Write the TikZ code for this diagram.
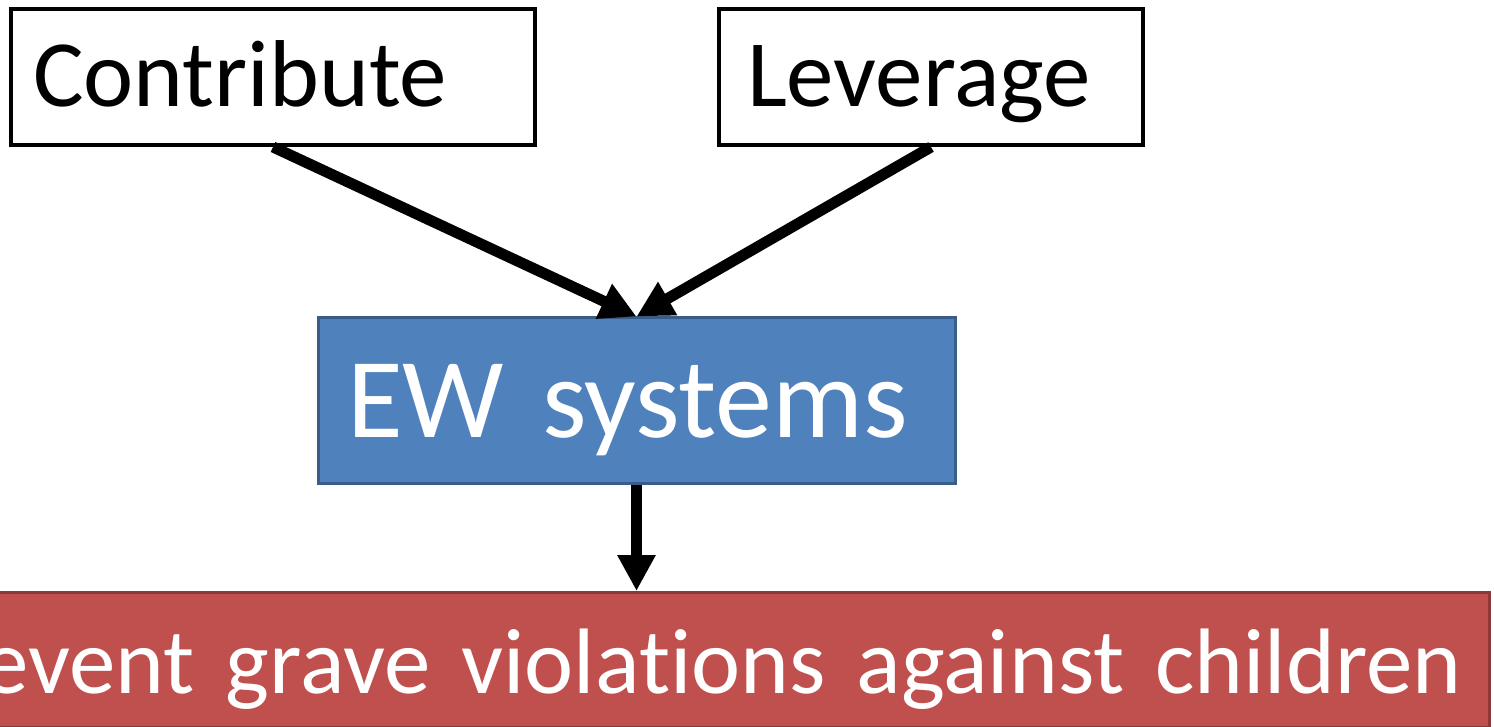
\documentclass[tikz,border=0pt]{standalone}
\usepackage{fontspec}
\setmainfont{Carlito}[Ligatures=NoCommon]
\usetikzlibrary{arrows.meta}
\definecolor{ewfill}{HTML}{4F81BD}
\definecolor{ewline}{HTML}{385D8A}
\definecolor{goalfill}{HTML}{C0504D}
\definecolor{goalline}{HTML}{8C3836}
\begin{document}
\begin{tikzpicture}[x=1pt,y=-1pt,
    actbox/.style={draw,line width=4pt,inner ysep=0pt,align=left,minimum height=136pt,
        text height=70pt,text depth=10pt,font=\fontsize{95}{100}\selectfont},
    pil/.style={-{Triangle[width=36pt,length=36pt]},line width=11pt}]
    % Khung hinh
    \useasboundingbox (0,0) rectangle (1494,727);
    \fill[white] (0,0) rectangle (1494,727);
    \clip (0,0) rectangle (1494,727);

    % Hai o phia tren
    \node[actbox,inner xsep=22pt,text width=480pt] (contribute) at (273,77) {Contribute};
    \node[actbox,inner xsep=28pt,text width=368pt] (leverage) at (931,77) {Leverage};

    % O giua
    \node[draw=ewline,fill=ewfill,line width=3pt,text=white,align=left,
        inner xsep=29pt,inner ysep=0pt,text width=579pt,minimum height=165pt,
        text height=83pt,text depth=10pt,font=\fontsize{114}{120}\selectfont]
        (ew) at (636.5,400.5) {EW systems};

    % O duoi cung
    \node[draw=goalline,fill=goalfill,line width=3pt,text=white,align=right,
        inner xsep=28pt,inner ysep=0pt,text width=1600pt,
        text height=101pt,text depth=34pt,font=\fontsize{93}{100}\selectfont,
        anchor=north east] (goal) at (1491,591) {Prevent grave violations against children};

    % Cac mui ten
    \draw[pil] (contribute.south) -- (ew.north);
    \draw[pil] (leverage.south) -- (ew.north);
    \draw[pil] (ew.south) -- (goal.north -| ew.south);
\end{tikzpicture}
\end{document}
